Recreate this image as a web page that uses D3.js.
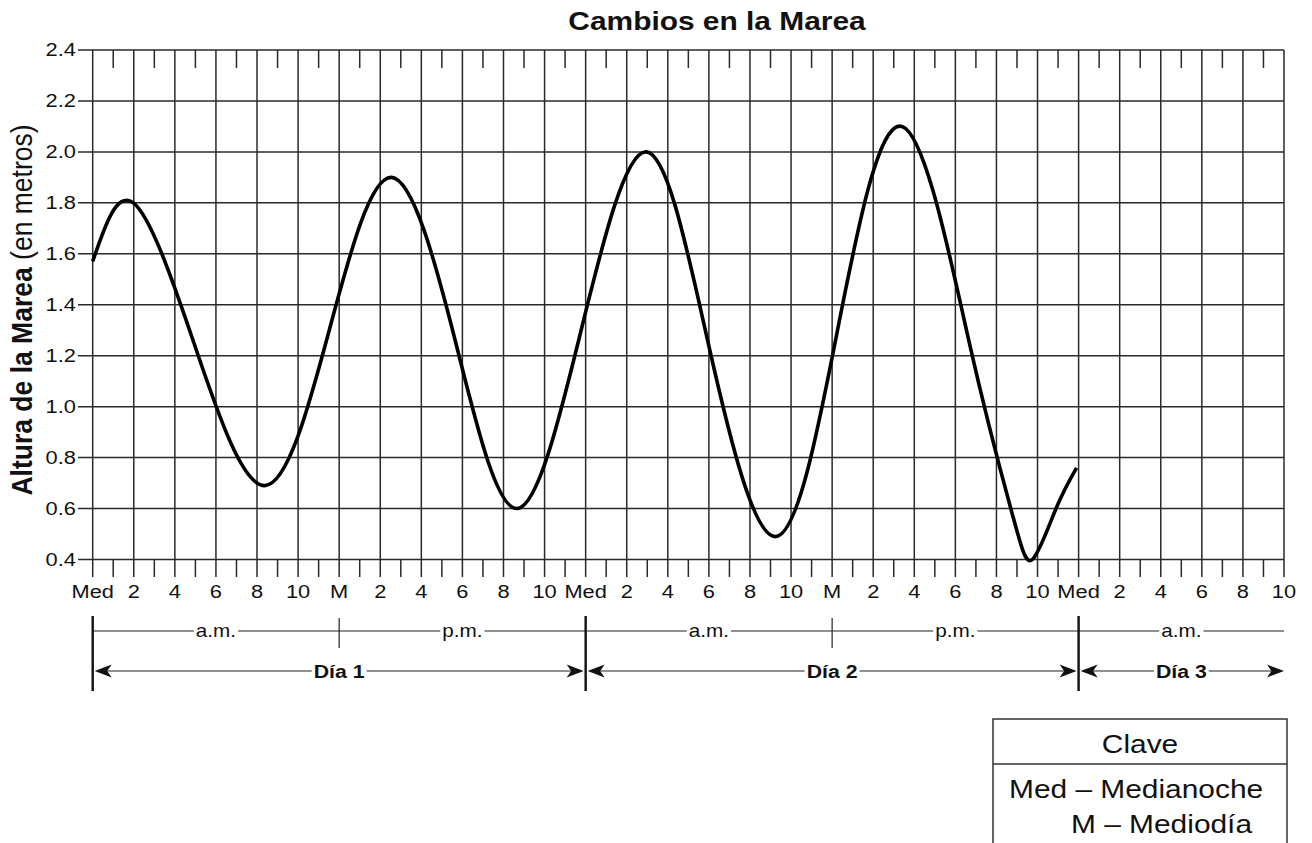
<!DOCTYPE html>
<html>
<head>
<meta charset="utf-8">
<script src="https://cdn.jsdelivr.net/npm/d3@7"></script>
<style>
  html, body { margin: 0; padding: 0; background: #fff; }
  svg { display: block; font-family: "Liberation Sans", Arial, Helvetica, sans-serif; }
</style>
</head>
<body>
<svg id="chart" width="1312" height="843"></svg>
<script>
// ---- data ----
const title = "Cambios en la Marea";
const yTitleBold = "Altura de la Marea";
const yTitleNormal = " (en metros)";
// readings: tide extremes and mid-level crossings (hours after midnight of Día 1)
const hours   = [0,    1.98, 4.95,  8.38, 11.5,  14.55, 17.68, 20.67, 23.78, 26.96, 29.98, 33.25, 36.25, 39.4, 42.68, 44.8, 45.75, 46.9, 47.9];
const heights = [1.57, 1.80, 1.245, 0.69, 1.295, 1.90,  1.25,  0.60,  1.30,  2.00,  1.245, 0.49,  1.295, 2.10, 1.25,  0.57, 0.40,  0.60, 0.76];
const yTicks = [0.4, 0.6, 0.8, 1.0, 1.2, 1.4, 1.6, 1.8, 2.0, 2.2, 2.4];
const xTickHours = d3.range(0, 59, 2);
const xTickLabels = ["Med","2","4","6","8","10","M","2","4","6","8","10",
                     "Med","2","4","6","8","10","M","2","4","6","8","10",
                     "Med","2","4","6","8","10"];
const periodLabels = ["a.m.", "p.m.", "a.m.", "p.m.", "a.m."];
const periodStarts = [0, 12, 24, 36, 48];
const periodEnds = [12, 24, 36, 48, 58];
const dayLabels = ["Día 1", "Día 2", "Día 3"];
const dayStarts = [0, 24, 48];
const dayEnds = [24, 48, 58];
const legendTitle = "Clave";
const legendLines = ["Med – Medianoche", "M – Mediodía"];

// ---- layout ----
const SX = 1.15; // horizontal stretch of the lettering
const svg = d3.select("#chart");
svg.append("rect").attr("width", 1312).attr("height", 843).attr("fill", "#fff");

const x = d3.scaleLinear().domain([0, 58]).range([92.7, 1284]);
const y = d3.scaleLinear().domain([0.4, 2.4]).range([559.5, 50]);
const gridColor = "#2a2a2a";

function txt(g, px, py, s, anchor, size, weight) {
  return g.append("text")
    .attr("transform", `translate(${px},${py}) scale(${SX},1)`)
    .attr("text-anchor", anchor)
    .attr("font-size", size)
    .attr("font-weight", weight || "normal")
    .attr("fill", "#111")
    .text(s);
}

// title
txt(svg, 717, 30, title, "middle", 26, "bold");

// grid
const grid = svg.append("g").attr("stroke", gridColor).attr("stroke-width", 1.5);
grid.selectAll("line.h").data(yTicks).join("line")
  .attr("x1", 78).attr("x2", x(58))
  .attr("y1", d => y(d)).attr("y2", d => y(d));
grid.selectAll("line.v").data(xTickHours).join("line")
  .attr("x1", d => x(d)).attr("x2", d => x(d))
  .attr("y1", y(2.4)).attr("y2", y(0.4) + 17.5);
const oddHours = d3.range(1, 58, 2);
grid.selectAll("line.tt").data(oddHours).join("line")
  .attr("x1", d => x(d)).attr("x2", d => x(d))
  .attr("y1", y(2.4)).attr("y2", y(2.4) + 18);
grid.selectAll("line.tb").data(oddHours).join("line")
  .attr("x1", d => x(d)).attr("x2", d => x(d))
  .attr("y1", y(0.4)).attr("y2", y(0.4) + 17.5);

// y tick labels
const yl = svg.append("g");
yTicks.forEach(v => {
  txt(yl, 76, y(v) + 6, v.toFixed(1), "end", 19);
});

// y axis title
const yt = svg.append("text")
  .attr("transform", `translate(32,310) scale(1.08,1) rotate(-90)`)
  .attr("text-anchor", "middle")
  .attr("font-size", 26.5)
  .attr("fill", "#111");
yt.append("tspan").attr("font-weight", "bold").text(yTitleBold);
yt.append("tspan").text(yTitleNormal);

// x tick labels
const xl = svg.append("g");
xTickHours.forEach((h, i) => {
  txt(xl, x(h), 598, xTickLabels[i], "middle", 19);
});

// curve
const line = d3.line()
  .x((d, i) => x(hours[i]))
  .y((d, i) => y(heights[i]))
  .curve(d3.curveNatural);
svg.append("path")
  .attr("d", line(heights))
  .attr("fill", "none")
  .attr("stroke", "#000")
  .attr("stroke-width", 3.6)
  .attr("stroke-linejoin", "round");

// period row (a.m. / p.m.)
const pY = 631;
const pr = svg.append("g");
periodLabels.forEach((lab, i) => {
  const x0 = x(periodStarts[i]), x1 = x(periodEnds[i]);
  const cx = (x0 + x1) / 2;
  const t = txt(pr, cx, pY + 6, lab, "middle", 18);
  const w = t.node().getComputedTextLength() * SX;
  pr.append("line").attr("x1", x0).attr("x2", cx - w / 2 - 2)
    .attr("y1", pY).attr("y2", pY).attr("stroke", "#222").attr("stroke-width", 1.2);
  pr.append("line").attr("x1", cx + w / 2 + 2).attr("x2", x1)
    .attr("y1", pY).attr("y2", pY).attr("stroke", "#222").attr("stroke-width", 1.2);
});
periodStarts.filter(h => !dayStarts.includes(h)).forEach(h => {
  pr.append("line").attr("x1", x(h)).attr("x2", x(h))
    .attr("y1", 618).attr("y2", 648).attr("stroke", "#222").attr("stroke-width", 1.2);
});

// day row
const dY = 671;
const dr = svg.append("g");
function arrowHead(tipX, dir) {
  const L = 17, H = 6.5, N = 12.5;
  const p = d3.path();
  p.moveTo(tipX, dY);
  p.lineTo(tipX - dir * L, dY - H);
  p.lineTo(tipX - dir * N, dY);
  p.lineTo(tipX - dir * L, dY + H);
  p.closePath();
  dr.append("path").attr("d", p.toString()).attr("fill", "#111");
}
dayLabels.forEach((lab, i) => {
  const x0 = x(dayStarts[i]) + 2, x1 = x(dayEnds[i]) - (i < 2 ? 2 : 0);
  const cx = (x(dayStarts[i]) + x(dayEnds[i])) / 2;
  const t = txt(dr, cx, dY + 7, lab, "middle", 18.5, "bold");
  const w = t.node().getComputedTextLength() * SX;
  dr.append("line").attr("x1", x0 + 5).attr("x2", cx - w / 2 - 2)
    .attr("y1", dY).attr("y2", dY).attr("stroke", "#222").attr("stroke-width", 1.2);
  dr.append("line").attr("x1", cx + w / 2 + 2).attr("x2", x1 - 5)
    .attr("y1", dY).attr("y2", dY).attr("stroke", "#222").attr("stroke-width", 1.2);
  arrowHead(x0, -1);
  arrowHead(x1, 1);
});
dayStarts.forEach(h => {
  dr.append("line").attr("x1", x(h)).attr("x2", x(h))
    .attr("y1", 616).attr("y2", 691).attr("stroke", "#111").attr("stroke-width", 2.4);
});

// legend
const lg = svg.append("g");
lg.append("rect").attr("x", 993).attr("y", 719).attr("width", 294).attr("height", 140)
  .attr("fill", "#fff").attr("stroke", "#333").attr("stroke-width", 1.5);
lg.append("line").attr("x1", 993).attr("x2", 1287).attr("y1", 764).attr("y2", 764)
  .attr("stroke", "#333").attr("stroke-width", 1.5);
txt(lg, 1140, 753, legendTitle, "middle", 26);
txt(lg, 1009, 798, legendLines[0], "start", 26);
txt(lg, 1071, 833, legendLines[1], "start", 26);
</script>
</body>
</html>
